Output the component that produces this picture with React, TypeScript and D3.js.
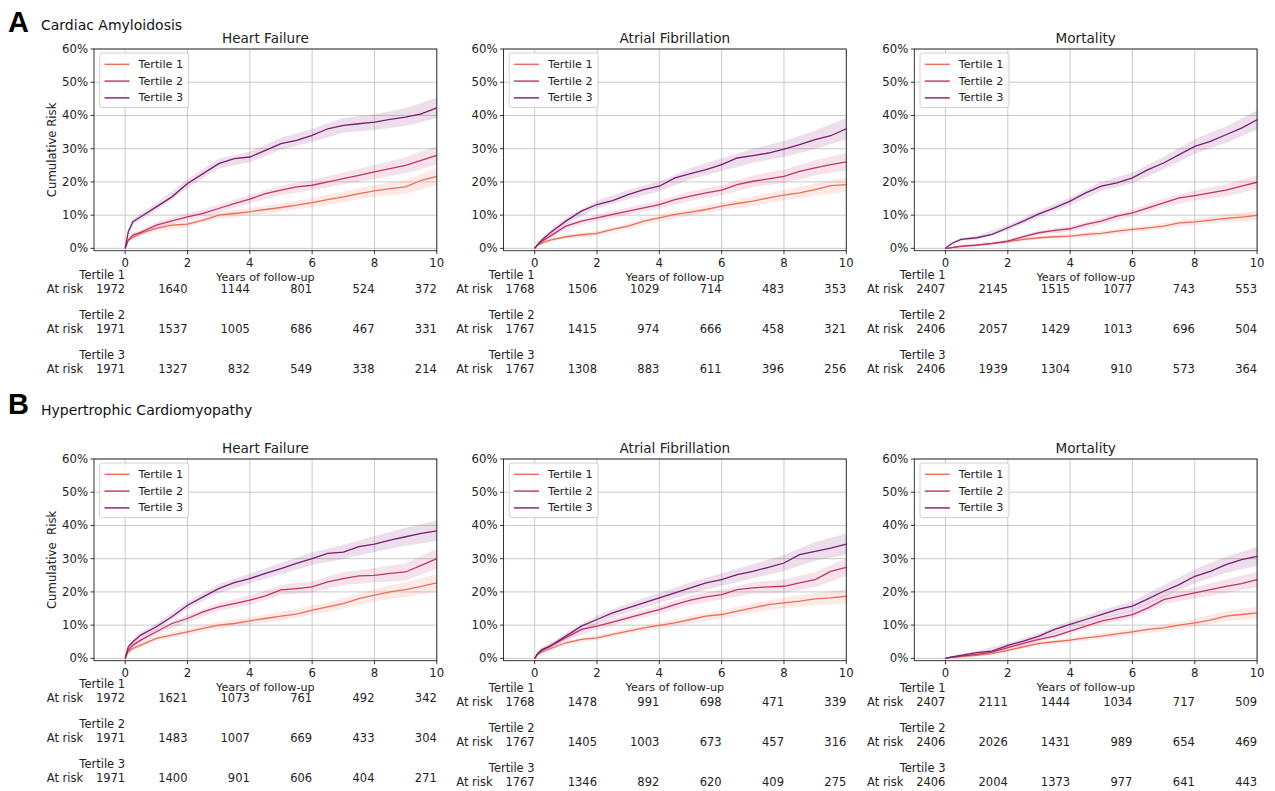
import React from 'react'
import * as d3 from 'd3'

// time grid (years) on which the curves were read
const years = [0, 0.1, 0.25, 0.5, 1, 1.5, 2, 2.5, 3, 3.5, 4, 4.5, 5, 5.5, 6, 6.5, 7, 7.5, 8, 8.5, 9, 9.5, 10]
// times at which the confidence band half-widths were read
const bandYears = [0, 0.1, 0.25, 0.5, 1, 2, 3, 4, 5, 6, 7, 8, 9, 10]
const riskYears = [0, 2, 4, 6, 8, 10]
const xTicks = [0, 2, 4, 6, 8, 10]
const yTicks = [0, 0.1, 0.2, 0.3, 0.4, 0.5, 0.6]

const tertiles = ['Tertile 1', 'Tertile 2', 'Tertile 3']
const tertileColors = ['#ef6b57', '#c2336a', '#7b1d71']

const outcomes = ['Heart Failure', 'Atrial Fibrillation', 'Mortality']
const sections = [
  { letter: 'A', name: 'Cardiac Amyloidosis' },
  { letter: 'B', name: 'Hypertrophic Cardiomyopathy' },
]

// cumulative risk (%) - Cardiac Amyloidosis
const caHfT1 = [0, 2.5, 3.3, 4.5, 6, 7, 7.3, 8.5, 10, 10.5, 11, 11.7, 12.3, 13, 13.8, 14.7, 15.5, 16.5, 17.3, 18, 18.5, 20.5, 21.7]
const caHfT2 = [0, 2.5, 4, 4.8, 7, 8.3, 9.5, 10.5, 12, 13.5, 14.8, 16.5, 17.5, 18.5, 19, 20, 21, 22, 23, 24, 25, 26.5, 28]
const caHfT3 = [0, 5, 8, 9.5, 12.5, 15.5, 19.5, 22.5, 25.5, 27, 27.5, 29.5, 31.5, 32.5, 34, 36, 37, 37.5, 38, 38.8, 39.5, 40.5, 42.3]
const caAfT1 = [0, 1, 1.7, 2.5, 3.5, 4.1, 4.5, 5.7, 6.7, 8.2, 9.2, 10.2, 10.9, 11.7, 12.7, 13.5, 14.2, 15.2, 16, 16.7, 17.7, 18.9, 19.2]
const caAfT2 = [0, 1.2, 2.2, 3.7, 6.7, 8.2, 9.2, 10.2, 11.2, 12.2, 13.2, 14.7, 15.7, 16.7, 17.5, 19.2, 20.2, 20.9, 21.7, 23.2, 24.2, 25.2, 26]
const caAfT3 = [0, 1.2, 2.7, 4.7, 8.2, 11.2, 13.2, 14.4, 16.2, 17.7, 18.7, 21.2, 22.5, 23.7, 25.2, 27.2, 27.9, 28.7, 29.9, 31.2, 32.7, 33.9, 36]
const caMoT1 = [0, 0.1, 0.3, 0.5, 1, 1.4, 2, 2.7, 3.2, 3.5, 3.7, 4.2, 4.5, 5.2, 5.7, 6.2, 6.7, 7.7, 8, 8.5, 9, 9.4, 9.9]
const caMoT2 = [0, 0.1, 0.3, 0.7, 1, 1.5, 2.2, 3.5, 4.7, 5.4, 5.9, 7.2, 8.2, 9.7, 10.7, 12.2, 13.7, 15.2, 15.9, 16.7, 17.5, 18.7, 19.9]
const caMoT3 = [0, 0.8, 1.7, 2.7, 3.2, 4.2, 6.2, 8.2, 10.4, 12.2, 14.2, 16.7, 18.7, 19.7, 21.2, 23.7, 25.7, 28.2, 30.7, 32.2, 34.2, 36.2, 38.7]

// cumulative risk (%) - Hypertrophic Cardiomyopathy
const hcmHfT1 = [0, 2, 3, 4, 6, 7, 8, 9, 10, 10.5, 11.3, 12, 12.7, 13.3, 14.5, 15.5, 16.5, 18, 19, 20, 20.7, 21.7, 22.7]
const hcmHfT2 = [0, 2.5, 4, 5.5, 8, 10.5, 12, 14, 15.5, 16.5, 17.5, 18.8, 20.6, 21, 21.5, 23, 24, 24.8, 25, 25.6, 26, 28, 30]
const hcmHfT3 = [0, 3.5, 5, 7, 9.5, 12.5, 16, 18.5, 21, 22.8, 24, 25.6, 27, 28.6, 30, 31.6, 32, 33.6, 34.4, 35.6, 36.6, 37.6, 38.4]
const hcmAfT1 = [0, 1.2, 2, 2.9, 4.7, 5.7, 6.2, 7.2, 8.2, 9.2, 9.9, 10.7, 11.7, 12.7, 13.2, 14.2, 15.2, 16.2, 16.7, 17.2, 17.9, 18.2, 18.7]
const hcmAfT2 = [0, 1.5, 2.5, 3.7, 6.2, 8.7, 9.7, 10.9, 12.2, 13.5, 14.7, 16.2, 17.5, 18.5, 19.2, 20.7, 21.2, 21.5, 21.7, 22.7, 23.7, 26.2, 27.4]
const hcmAfT3 = [0, 1.5, 2.7, 3.7, 6.7, 9.7, 11.7, 13.7, 15.2, 16.7, 18.2, 19.7, 21.2, 22.7, 23.7, 25.2, 26.2, 27.4, 28.7, 31.2, 32.2, 33.2, 34.4]
const hcmMoT1 = [0, 0.2, 0.3, 0.5, 0.9, 1.4, 2.4, 3.5, 4.5, 5, 5.5, 6.2, 6.7, 7.4, 8, 8.7, 9.2, 10, 10.7, 11.5, 12.7, 13.2, 13.7]
const hcmMoT2 = [0, 0.2, 0.4, 0.7, 1.2, 1.9, 3.2, 4.5, 5.7, 6.7, 8.2, 9.7, 11.2, 12.2, 13.2, 15.2, 17.7, 18.7, 19.7, 20.7, 21.7, 22.5, 23.7]
const hcmMoT3 = [0, 0.2, 0.5, 0.9, 1.7, 2.2, 3.9, 5.2, 6.7, 8.7, 10.2, 11.7, 13.2, 14.7, 15.7, 17.9, 20.2, 22.2, 24.7, 26.2, 28.2, 29.7, 30.7]

// 95% CI half-widths (%) at bandYears
const caHfCi = [
  [0, 0.5, 0.6, 0.7, 0.8, 0.9, 1, 1.1, 1.2, 1.4, 1.6, 1.8, 2.1, 2.6],
  [0, 0.6, 0.7, 0.8, 0.9, 1, 1.1, 1.3, 1.4, 1.6, 1.8, 2.1, 2.4, 2.8],
  [0, 0.8, 0.9, 1, 1.1, 1.3, 1.5, 1.6, 1.8, 2, 2.2, 2.4, 2.7, 3.1],
]
const caAfCi = [
  [0, 0.4, 0.5, 0.5, 0.6, 0.7, 0.8, 1, 1.1, 1.2, 1.4, 1.6, 1.8, 2.2],
  [0, 0.5, 0.6, 0.7, 0.8, 1, 1.1, 1.2, 1.4, 1.5, 1.7, 2, 2.3, 2.6],
  [0, 0.5, 0.7, 0.8, 1, 1.2, 1.4, 1.5, 1.7, 1.9, 2.1, 2.4, 2.8, 3.2],
]
const caMoCi = [
  [0, 0.1, 0.2, 0.2, 0.3, 0.4, 0.5, 0.6, 0.7, 0.8, 0.9, 1, 1.2, 1.4],
  [0, 0.1, 0.2, 0.3, 0.4, 0.5, 0.7, 0.8, 1, 1.1, 1.3, 1.5, 1.8, 2.1],
  [0, 0.3, 0.4, 0.5, 0.6, 0.8, 1, 1.2, 1.4, 1.6, 1.9, 2.2, 2.5, 2.9],
]
const hcmHfCi = [
  [0, 0.5, 0.6, 0.7, 0.8, 0.9, 1, 1.1, 1.3, 1.4, 1.6, 1.9, 2.2, 2.7],
  [0, 0.6, 0.7, 0.8, 0.9, 1.1, 1.2, 1.4, 1.5, 1.7, 1.9, 2.2, 2.6, 3],
  [0, 0.6, 0.7, 0.9, 1, 1.2, 1.4, 1.5, 1.7, 1.9, 2.1, 2.4, 2.7, 3.1],
]
const hcmAfCi = [
  [0, 0.4, 0.5, 0.5, 0.6, 0.7, 0.8, 1, 1.1, 1.2, 1.4, 1.6, 1.8, 2.2],
  [0, 0.5, 0.6, 0.7, 0.8, 1, 1.1, 1.2, 1.4, 1.5, 1.7, 2, 2.3, 2.6],
  [0, 0.5, 0.7, 0.8, 1, 1.2, 1.4, 1.5, 1.7, 1.9, 2.1, 2.4, 2.8, 3.2],
]
const hcmMoCi = [
  [0, 0.1, 0.2, 0.2, 0.3, 0.5, 0.6, 0.7, 0.8, 0.9, 1, 1.2, 1.5, 1.8],
  [0, 0.1, 0.2, 0.3, 0.4, 0.6, 0.7, 0.9, 1, 1.2, 1.4, 1.7, 2, 2.4],
  [0, 0.2, 0.3, 0.4, 0.5, 0.7, 0.9, 1.1, 1.3, 1.5, 1.8, 2.1, 2.4, 2.8],
]

// number at risk at riskYears
const caHfRisk = [
  [1972, 1640, 1144, 801, 524, 372],
  [1971, 1537, 1005, 686, 467, 331],
  [1971, 1327, 832, 549, 338, 214],
]
const caAfRisk = [
  [1768, 1506, 1029, 714, 483, 353],
  [1767, 1415, 974, 666, 458, 321],
  [1767, 1308, 883, 611, 396, 256],
]
const caMoRisk = [
  [2407, 2145, 1515, 1077, 743, 553],
  [2406, 2057, 1429, 1013, 696, 504],
  [2406, 1939, 1304, 910, 573, 364],
]
const hcmHfRisk = [
  [1972, 1621, 1073, 761, 492, 342],
  [1971, 1483, 1007, 669, 433, 304],
  [1971, 1400, 901, 606, 404, 271],
]
const hcmAfRisk = [
  [1768, 1478, 991, 698, 471, 339],
  [1767, 1405, 1003, 673, 457, 316],
  [1767, 1346, 892, 620, 409, 275],
]
const hcmMoRisk = [
  [2407, 2111, 1444, 1034, 717, 509],
  [2406, 2026, 1431, 989, 654, 469],
  [2406, 2004, 1373, 977, 641, 443],
]

const panelRows = [
  [
    { curves: [caHfT1, caHfT2, caHfT3], ci: caHfCi, risk: caHfRisk },
    { curves: [caAfT1, caAfT2, caAfT3], ci: caAfCi, risk: caAfRisk },
    { curves: [caMoT1, caMoT2, caMoT3], ci: caMoCi, risk: caMoRisk },
  ],
  [
    { curves: [hcmHfT1, hcmHfT2, hcmHfT3], ci: hcmHfCi, risk: hcmHfRisk },
    { curves: [hcmAfT1, hcmAfT2, hcmAfT3], ci: hcmAfCi, risk: hcmAfRisk },
    { curves: [hcmMoT1, hcmMoT2, hcmMoT3], ci: hcmMoCi, risk: hcmMoRisk },
  ],
]

const font = 'DejaVu Sans'
const colLefts = [94, 503.5, 914.3]
const rowTops = [49, 459]
const plotWidth = 342.8
const plotHeight = 201.7
const tableStarts = [
  [26.5, 26.5, 26.5],
  [26, 29.5, 29.5],
]
const gridColor = '#c4c4c4'

function Panel({ data, title, left, top, yLabel, tableStart }) {
  const x = d3.scaleLinear().domain([-1, 10]).range([left, left + plotWidth])
  const y = d3.scaleLinear().domain([-0.007, 0.6]).range([top + plotHeight, top])
  const zeroY = y(0)
  const bottom = top + plotHeight

  const line = d3
    .line()
    .x((d) => x(d[0]))
    .y((d) => y(d[1] / 100))

  const area = d3
    .area()
    .x((d) => x(d[0]))
    .y0((d) => y(Math.max(0, d[1] - d[2]) / 100))
    .y1((d) => y((d[1] + d[2]) / 100))

  return (
    <g>
      {/* grid */}
      {xTicks.map((t) => (
        <line key={'gx' + t} x1={x(t)} x2={x(t)} y1={top} y2={bottom} stroke={gridColor} strokeWidth={0.9} />
      ))}
      {yTicks.map((t) => (
        <line key={'gy' + t} x1={left} x2={left + plotWidth} y1={y(t)} y2={y(t)} stroke={gridColor} strokeWidth={0.9} />
      ))}

      {/* confidence bands */}
      {data.curves.map((c, i) => {
        const pts = bandYears.map((t, j) => [t, c[years.indexOf(t)], data.ci[i][j]])
        return <path key={'band' + i} d={area(pts)} fill={tertileColors[i]} fillOpacity={0.14} stroke="none" />
      })}

      {/* curves */}
      {data.curves.map((c, i) => (
        <path
          key={'line' + i}
          d={line(years.map((t, j) => [t, c[j]]))}
          fill="none"
          stroke={tertileColors[i]}
          strokeWidth={1.3}
        />
      ))}

      {/* frame */}
      <rect x={left} y={top} width={plotWidth} height={plotHeight} fill="none" stroke="#222" strokeWidth={0.9} />

      {/* y axis */}
      {yTicks.map((t) => (
        <g key={'yt' + t}>
          <line x1={left - 3.5} x2={left} y1={y(t)} y2={y(t)} stroke="#222" strokeWidth={0.9} />
          <text
            x={left - 6}
            y={y(t)}
            textAnchor="end"
            dominantBaseline="central"
            style={{ fontFamily: font, fontSize: '11.7px', fill: '#222' }}
          >
            {Math.round(t * 100) + '%'}
          </text>
        </g>
      ))}

      {/* x axis */}
      {xTicks.map((t) => (
        <g key={'xt' + t}>
          <line x1={x(t)} x2={x(t)} y1={bottom} y2={bottom + 3.5} stroke="#222" strokeWidth={0.9} />
          <text
            x={x(t)}
            y={zeroY + 14.2}
            textAnchor="middle"
            dominantBaseline="central"
            style={{ fontFamily: font, fontSize: '11.7px', fill: '#222' }}
          >
            {t}
          </text>
        </g>
      ))}

      <text
        x={left + plotWidth / 2}
        y={zeroY + 29.2}
        textAnchor="middle"
        dominantBaseline="central"
        style={{ fontFamily: font, fontSize: '11.2px', fill: '#222' }}
      >
        Years of follow-up
      </text>

      <text
        x={left + plotWidth / 2}
        y={top - 5.7}
        textAnchor="middle"
        style={{ fontFamily: font, fontSize: '13.6px', fill: '#222' }}
      >
        {title}
      </text>

      {yLabel && (
        <text
          transform={`translate(${left - 42.3},${top + plotHeight / 2}) rotate(-90)`}
          textAnchor="middle"
          dominantBaseline="central"
          style={{ fontFamily: font, fontSize: '11.7px', fill: '#222', whiteSpace: 'pre' }}
        >
          {yLabel}
        </text>
      )}

      {/* legend */}
      <g>
        <rect
          x={left + 5.7}
          y={top + 4}
          width={89}
          height={54.5}
          rx={2.5}
          fill="white"
          fillOpacity={0.8}
          stroke="#cccccc"
          strokeWidth={0.9}
        />
        {tertiles.map((name, i) => (
          <g key={'leg' + i}>
            <line
              x1={left + 10.5}
              x2={left + 35.5}
              y1={top + 15.3 + i * 16.8}
              y2={top + 15.3 + i * 16.8}
              stroke={tertileColors[i]}
              strokeWidth={1.4}
            />
            <text
              x={left + 44.5}
              y={top + 15.3 + i * 16.8}
              dominantBaseline="central"
              style={{ fontFamily: font, fontSize: '11.2px', fill: '#222' }}
            >
              {name}
            </text>
          </g>
        ))}
      </g>

      {/* at-risk table */}
      {tertiles.map((name, i) => {
        const rowY = zeroY + tableStart + i * 40
        return (
          <g key={'risk' + i} style={{ fontFamily: font, fontSize: '11.5px', fill: '#222' }}>
            <text x={x(0)} y={rowY} textAnchor="end" dominantBaseline="central">
              {name}
            </text>
            <text x={x(0) - 42} y={rowY + 14} textAnchor="end" dominantBaseline="central">
              At risk
            </text>
            {riskYears.map((t, j) => (
              <text key={'n' + j} x={x(t)} y={rowY + 14} textAnchor="end" dominantBaseline="central">
                {data.risk[i][j]}
              </text>
            ))}
          </g>
        )
      })}
    </g>
  )
}

export default function App() {
  return (
    <svg
      width={1275}
      height={791}
      style={{ position: 'absolute', left: 0, top: 0, background: 'white' }}
    >
      {sections.map((s, r) => (
        <g key={s.letter}>
          <text
            x={8}
            y={r === 0 ? 31.5 : 414}
            style={{ fontFamily: 'Liberation Sans', fontWeight: 'bold', fontSize: '29px', fill: '#000' }}
          >
            {s.letter}
          </text>
          <text
            x={41}
            y={r === 0 ? 30 : 415}
            style={{ fontFamily: font, fontSize: '14px', fill: '#111' }}
          >
            {s.name}
          </text>
          {panelRows[r].map((p, c) => (
            <Panel
              key={c}
              data={p}
              title={outcomes[c]}
              left={colLefts[c]}
              top={rowTops[r]}
              yLabel={c === 0 ? (r === 0 ? 'Cumulative Risk' : 'Cumulative  Risk') : null}
              tableStart={tableStarts[r][c]}
            />
          ))}
        </g>
      ))}
    </svg>
  )
}
